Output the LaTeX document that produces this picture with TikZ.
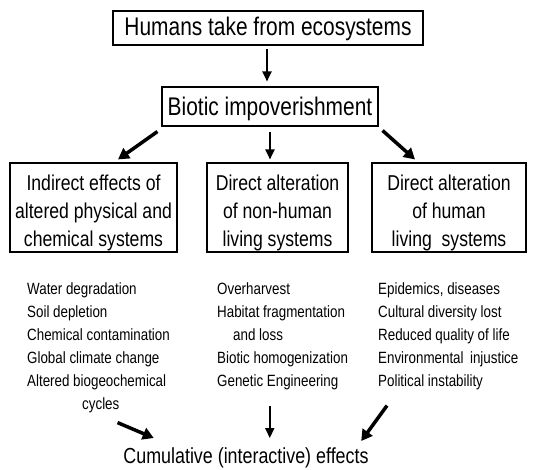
\documentclass[tikz,border=0pt]{standalone}
\usepackage{fontspec}
\setmainfont{Liberation Sans}[FakeStretch=0.82]
\usetikzlibrary{arrows.meta}
\newcommand{\lowerby}[1]{\rule{0pt}{#1}}
\begin{document}
\begin{tikzpicture}[x=1pt,y=-1pt,
  box/.style={draw, line width=1.1pt, inner sep=0pt, align=center},
  big/.style={font=\fontsize{25.5}{30}\selectfont},
  mid/.style={font=\fontsize{21.5}{28}\selectfont},
  item/.style={font=\fontsize{16.3}{18}\selectfont, inner sep=0pt, anchor=base west},
  thinarrow/.style={line width=2pt, -{Triangle[length=10pt,width=9pt]}},
  thickarrow/.style={line width=3.5pt, -{Triangle[length=11pt,width=12pt]}}]
\useasboundingbox (0,0) rectangle (533,469);
\fill[white] (0,0) rectangle (533,469);
% boxes
\node[box,big,minimum width=310pt,minimum height=34pt] (top) at (268,28) {\lowerby{21pt}Humans take from ecosystems};
\node[box,big,minimum width=216pt,minimum height=39pt] (imp) at (270,106.5) {\lowerby{23pt}Biotic impoverishment};
\node[box,mid,minimum width=167pt,minimum height=89pt] (ind) at (93.5,207.5) {\lowerby{26pt}Indirect effects of\\altered physical and\\chemical systems};
\node[box,mid,minimum width=141pt,minimum height=89pt] (non) at (277.5,207.5) {\lowerby{26pt}Direct alteration\\of non-human\\living systems};
\node[box,mid,minimum width=154pt,minimum height=89pt] (hum) at (449,207.5) {\lowerby{26pt}Direct alteration\\of human\\living\ \ systems};
% column 1
\node[item] (a1) at (27,294) {Water degradation};
\node[item] (a2) at (27,317) {Soil depletion};
\node[item] (a3) at (27,340) {Chemical contamination};
\node[item] (a4) at (27,363) {Global climate change};
\node[item] (a5) at (27,386) {Altered biogeochemical};
\node[item] (a6) at (82,409) {cycles};
% column 2
\node[item] (b1) at (217,294) {Overharvest};
\node[item] (b2) at (217,317) {Habitat fragmentation};
\node[item] (b3) at (233,340) {and loss};
\node[item] (b4) at (217,363) {Biotic homogenization};
\node[item] (b5) at (217,386) {Genetic Engineering};
% column 3
\node[item] (c1) at (378,294) {Epidemics, diseases};
\node[item] (c2) at (378,317) {Cultural diversity lost};
\node[item] (c3) at (378,340) {Reduced quality of life};
\node[item] (c4) at (378,363) {Environmental\ \,injustice};
\node[item] (c5) at (378,386) {Political instability};
% bottom
\node[font=\fontsize{21.8}{24}\selectfont, inner sep=0pt, anchor=base] (cum) at (246,463) {Cumulative (interactive) effects};
% arrows
\draw[thinarrow] ([shift={(-1,3)}]top.south) -- ([shift={(-3,-5)}]imp.north);
\draw[thickarrow] ([shift={(-4,5)}]imp.south west) -- ([shift={(24.5,-3)}]ind.north);
\draw[thinarrow] ([shift={(0,5)}]imp.south) -- ([shift={(-7.5,-3)}]non.north);
\draw[thickarrow] ([shift={(4,4)}]imp.south east) -- ([shift={(-34,-3)}]hum.north);
\draw[thickarrow] ([shift={(-2,10)}]a6.south east) -- ([shift={(30.5,-9)}]cum.north west);
\draw[thinarrow] ([shift={(-8,16)}]b5.south) -- ([shift={(-8,-9)}]b5.south |- cum.north);
\draw[thickarrow] ([shift={(9,16)}]c5.south west) -- ([shift={(-7.5,-6)}]cum.north east);
\end{tikzpicture}
\end{document}
